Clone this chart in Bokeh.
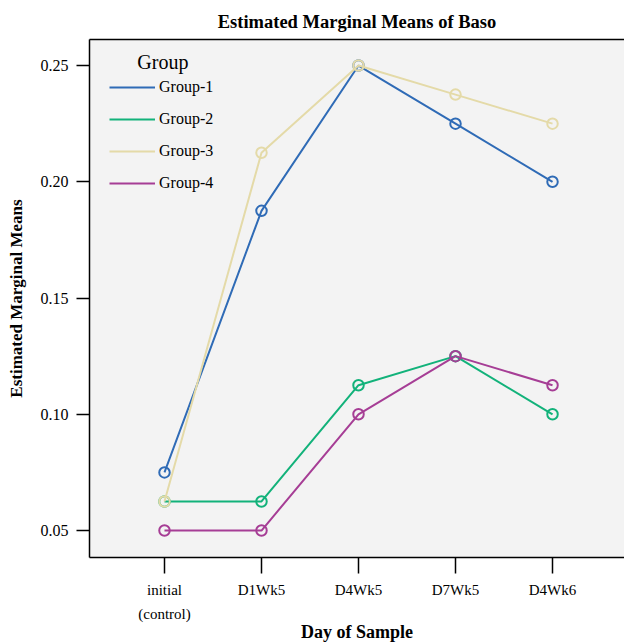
from bokeh.plotting import figure
from bokeh.models import Range1d, FixedTicker, Legend, LegendItem, LinearAxis, Label
from bokeh.embed import file_html
from bokeh.resources import INLINE

days = ["initial", "D1Wk5", "D4Wk5", "D7Wk5", "D4Wk6"]
day_sublabels = {0: "(control)"}
x_idx = [0, 1, 2, 3, 4]
groups = ["Group-1", "Group-2", "Group-3", "Group-4"]
group1 = [0.075, 0.1875, 0.25, 0.225, 0.20]
group2 = [0.0625, 0.0625, 0.1125, 0.125, 0.10]
group3 = [0.0625, 0.2125, 0.25, 0.2375, 0.225]
group4 = [0.05, 0.05, 0.10, 0.125, 0.1125]
y_ticks = [0.05, 0.10, 0.15, 0.20, 0.25]
y_tick_labels = ["0.05", "0.10", "0.15", "0.20", "0.25"]
colors = ["#2f6bb6", "#12b27a", "#e4daa8", "#a63d95"]

FONT = "Liberation Serif"

p = figure(output_backend="svg", toolbar_location=None,
           frame_width=535, frame_height=518,
           x_range=Range1d(-0.773, 4.742), y_range=Range1d(0.0384, 0.2612),
           min_border_left=89, min_border_right=0, min_border_top=39, min_border_bottom=86,
           background_fill_color="#f3f3f3", border_fill_color="white")
p.outline_line_color = None
p.xgrid.visible = False
p.ygrid.visible = False

p.title.text = "Estimated Marginal Means of Baso"
p.title.align = "center"
p.title.text_font = FONT
p.title.text_font_style = "bold"
p.title.text_font_size = "18.5px"
p.title.text_color = "black"
p.title.standoff = 15

xa = p.xaxis[0]
xa.ticker = FixedTicker(ticks=x_idx)
xa.major_label_overrides = {i: d for i, d in zip(x_idx, days)}
ya = p.yaxis[0]
ya.ticker = FixedTicker(ticks=y_ticks)
ya.major_label_overrides = {t: l for t, l in zip(y_ticks, y_tick_labels)}
ya.axis_label = "Estimated Marginal Means"
for ax, tick_out in ((xa, 16), (ya, 13)):
    ax.major_tick_out = tick_out
    ax.major_tick_in = 0
    ax.minor_tick_line_color = None
    ax.axis_line_width = 1.5
    ax.major_tick_line_width = 1.5
    ax.axis_line_color = "black"
    ax.major_tick_line_color = "black"
    ax.major_label_text_font = FONT
    ax.major_label_text_color = "black"
    ax.axis_label_text_font = FONT
    ax.axis_label_text_font_style = "bold"
    ax.axis_label_text_color = "black"
xa.major_label_text_font_size = "15px"
ya.major_label_text_font_size = "16px"
ya.axis_label_text_font_size = "17px"
xa.major_label_standoff = 8
ya.major_label_standoff = 8
ya.axis_label_standoff = 12

# second row of x tick labels, plus the x axis title
xa2 = LinearAxis(ticker=FixedTicker(ticks=list(day_sublabels.keys())),
                 major_label_overrides=day_sublabels,
                 axis_line_color=None, major_tick_line_color=None, minor_tick_line_color=None,
                 major_tick_out=0, major_tick_in=0, major_label_standoff=5,
                 major_label_text_font=FONT, major_label_text_font_size="15px",
                 major_label_text_color="black",
                 axis_label="Day of Sample", axis_label_standoff=-3,
                 axis_label_text_font=FONT, axis_label_text_font_style="bold",
                 axis_label_text_font_size="18px", axis_label_text_color="black")
p.add_layout(xa2, "below")

top = LinearAxis(ticker=FixedTicker(ticks=[]), major_label_text_font_size="0px",
                 major_tick_line_color=None, minor_tick_line_color=None,
                 axis_line_width=1.5, axis_line_color="black")
p.add_layout(top, "above")

items = []
for name, vals, c in zip(groups, [group1, group2, group3, group4], colors):
    r = p.line(x_idx, vals, line_color=c, line_width=2)
    p.scatter(x_idx, vals, marker="circle", size=10.5, fill_color=None,
              line_color=c, line_width=2)
    items.append(LegendItem(label=name, renderers=[r]))

legend = Legend(items=items, location=(10, 354), padding=10, margin=0,
                glyph_width=46, glyph_height=20, label_height=20, spacing=12,
                label_standoff=4, label_text_font=FONT, label_text_font_size="16px",
                label_text_color="black", border_line_alpha=0, background_fill_alpha=0)
p.add_layout(legend)

p.add_layout(Label(x=-0.28, y=0.2517, text="Group", text_font=FONT,
                   text_font_size="20px", text_baseline="middle", text_color="black"))

open("out.html", "w").write(file_html(p, INLINE))
